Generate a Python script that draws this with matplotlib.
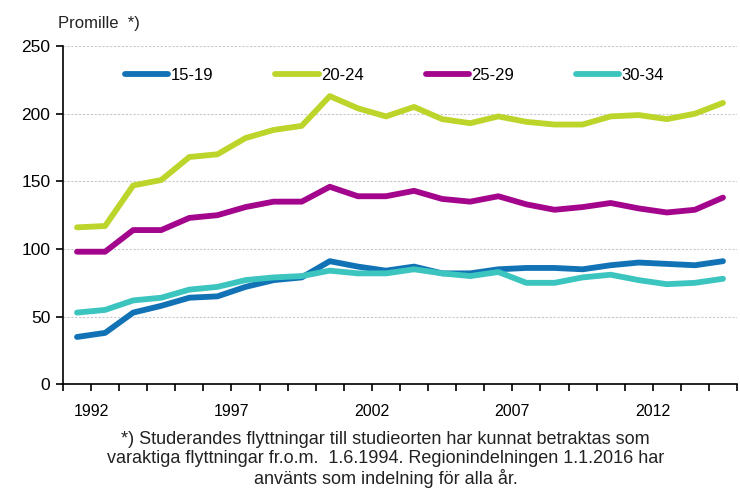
import numpy as np
import matplotlib
matplotlib.use("Agg")
import matplotlib.pyplot as plt

plt.rcParams['font.family'] = ['Liberation Sans', 'DejaVu Sans']

# years 1991-2014 (one point per year)
years = list(range(1991, 2015))
tick_labels = ['1992', '1997', '2002', '2007', '2012']

age_15_19 = [35, 38, 53, 58, 64, 65, 72, 77, 79, 91, 87, 84, 87, 82, 82, 85,
             86, 86, 85, 88, 90, 89, 88, 91]
age_20_24 = [116, 117, 147, 151, 168, 170, 182, 188, 191, 213, 204, 198, 205, 196,
             193, 198, 194, 192, 192, 198, 199, 196, 200, 208]
age_25_29 = [98, 98, 114, 114, 123, 125, 131, 135, 135, 146, 139, 139, 143, 137,
             135, 139, 133, 129, 131, 134, 130, 127, 129, 138]
age_30_34 = [53, 55, 62, 64, 70, 72, 77, 79, 80, 84, 82, 82, 85, 82, 80, 83,
             75, 75, 79, 81, 77, 74, 75, 78]

series = [('15-19', age_15_19, '#1173b5'),
          ('20-24', age_20_24, '#bdd52b'),
          ('25-29', age_25_29, '#a3068c'),
          ('30-34', age_30_34, '#3cc4bf')]

fig = plt.figure(figsize=(7.4, 4.9), dpi=100)
ax = fig.add_axes([0.0851, 0.2157, 0.9109, 0.6903])

x = np.arange(len(years))
for name, vals, col in series:
    ax.plot(x, vals, color=col, lw=4.2, solid_capstyle='round', label=name)

ax.set_xlim(-0.5, len(years) - 0.5)
ax.set_ylim(0, 250)

# labels sit on every 5th category boundary
bounds = np.arange(-0.5, len(years) + 0.5, 1)
ax.set_xticks([bounds[1 + 5 * i] for i in range(len(tick_labels))])
ax.set_xticklabels(tick_labels)
ax.tick_params(axis='x', length=0, pad=14, labelsize=11.5)
# short tick marks on every category boundary
ax.vlines(bounds, -0.02, 0, transform=ax.get_xaxis_transform(), colors='black',
          lw=1.2, clip_on=False)

ax.set_yticks(range(0, 251, 50))
ax.tick_params(axis='y', direction='out', length=5, width=1.2, labelsize=12.5, pad=4)

for v in range(50, 251, 50):
    ax.axhline(v, color='#c8c8d0', lw=0.8, ls=(0, (2, 1.5)), zorder=0)

for s in ['top', 'right']:
    ax.spines[s].set_visible(False)
ax.spines['left'].set_linewidth(1.2)
ax.spines['bottom'].set_linewidth(1.2)

ax.legend(loc='upper left', bbox_to_anchor=(0.07, 0.98), ncol=4, frameon=False,
          handlelength=2.6, handletextpad=0.15, columnspacing=3.7,
          prop={'size': 12})

fig.text(0.079, 0.953, 'Promille  *)', fontsize=12, va='center', ha='left',
         color='#222222')

footnote = ("*) Studerandes flyttningar till studieorten har kunnat betraktas som\n"
            "varaktiga flyttningar fr.o.m.  1.6.1994. Regionindelningen 1.1.2016 har\n"
            "använts som indelning för alla år.")
fig.text(0.521, 0.12, footnote, ha='center', va='top', fontsize=13, linespacing=1.12,
         color='#222222')

fig.savefig('out.png', dpi=100)
